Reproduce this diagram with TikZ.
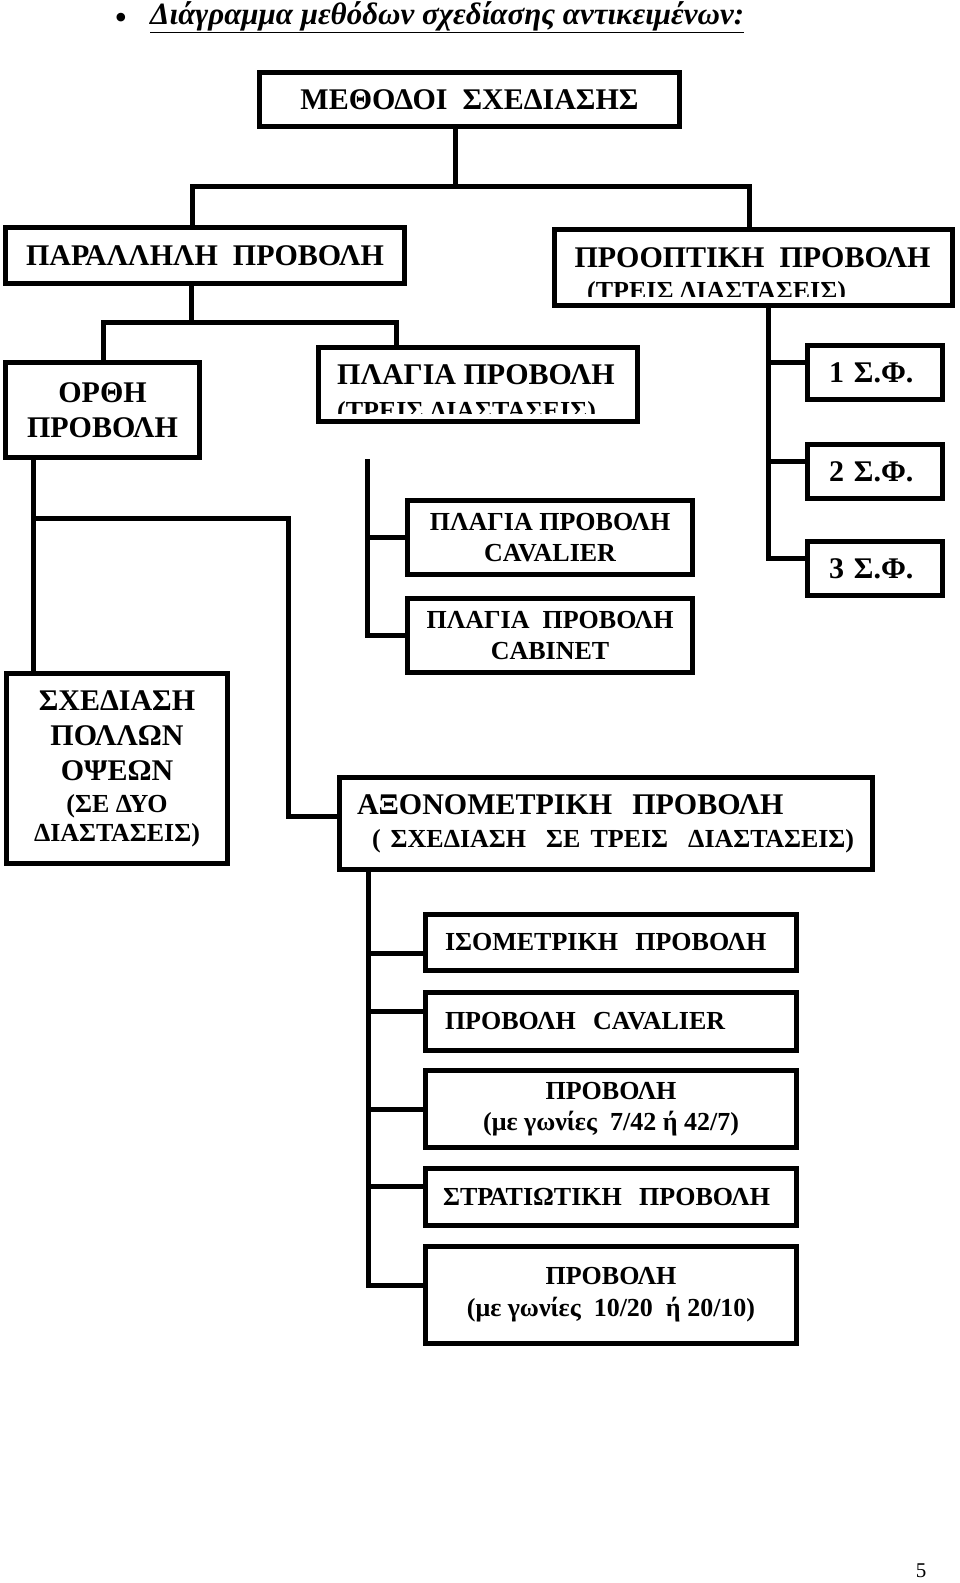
\documentclass[tikz,border=0pt]{standalone}
\usepackage{fontspec}
\setmainfont{Liberation Serif}
\newcommand{\bigtxt}{\fontsize{30}{35}\selectfont\bfseries}
\newcommand{\smalltxt}{\fontsize{26}{31}\selectfont\bfseries}
\begin{document}
\begin{tikzpicture}[x=1pt,y=-1pt,
    box/.style={draw,line width=5pt,inner sep=0pt,align=center,font=\bigtxt},
    txt/.style={inner sep=0pt,font=\bigtxt},
    link/.style={line width=5pt}]
  \useasboundingbox (0,0) rectangle (960,1583);

  % title
  \node[txt,anchor=base,font=\fontsize{36}{36}\selectfont] (dot) at (121,29) {•};
  \node[txt,anchor=base west,font=\fontsize{31}{34}\selectfont\bfseries\itshape] (title) at (150,24)
    {\underline{Διάγραμμα μεθόδων σχεδίασης αντικειμένων:}};

  % upper levels
  \node[box,minimum width=420pt,minimum height=54pt] (methods) at (469.5,99.5) {ΜΕΘΟΔΟΙ~~ΣΧΕΔΙΑΣΗΣ};
  \node[box,minimum width=399pt,minimum height=56pt] (parallel) at (205,255.5) {ΠΑΡΑΛΛΗΛΗ~~ΠΡΟΒΟΛΗ};
  \node[box,minimum width=398pt,minimum height=76pt] (persp) at (753.5,267.5) {};
  \node[txt,anchor=base] (persptop) at (752.5,267) {ΠΡΟΟΠΤΙΚΗ~~ΠΡΟΒΟΛΗ};
  \begin{scope}
    \clip (560,270) rectangle (948,296.5);
    \node[txt,anchor=base west,font=\smalltxt] (perspsub) at (587,299) {(ΤΡΕΙΣ ΔΙΑΣΤΑΣΕΙΣ)};
  \end{scope}

  \node[box,minimum width=194pt,minimum height=95pt] (ortho) at (102.5,410) {ΟΡΘΗ\\ΠΡΟΒΟΛΗ};
  \node[box,minimum width=319pt,minimum height=74pt] (oblique) at (478,384.5) {};
  \node[txt,anchor=base west] (obliquetop) at (337,384) {ΠΛΑΓΙΑ ΠΡΟΒΟΛΗ};
  \begin{scope}
    \clip (330,387) rectangle (630,413);
    \node[txt,anchor=base west,font=\smalltxt] (obliquesub) at (337,419) {(ΤΡΕΙΣ ΔΙΑΣΤΑΣΕΙΣ)};
  \end{scope}

  % vanishing points
  \foreach \k/\y in {1/372.5,2/471.5,3/568.5}
    \node[box,align=left,text width=92pt,inner xsep=21.5pt,minimum height=54pt] (sf\k) at (875,\y) {\k~Σ.Φ.};

  % oblique views
  \node[box,font=\smalltxt,minimum width=285pt,minimum height=74pt] (cav) at (550,537.5) {ΠΛΑΓΙΑ ΠΡΟΒΟΛΗ\\CAVALIER};
  \node[box,font=\smalltxt,minimum width=285pt,minimum height=74pt] (cab) at (550,635.5) {ΠΛΑΓΙΑ~~ΠΡΟΒΟΛΗ\\CABINET};

  \node[box,minimum width=221pt,minimum height=190pt] (multi) at (117,768.5)
    {ΣΧΕΔΙΑΣΗ\\ΠΟΛΛΩΝ\\ΟΨΕΩΝ\\[-3pt]{\smalltxt(ΣΕ ΔΥΟ}\\[-6pt]{\smalltxt ΔΙΑΣΤΑΣΕΙΣ)}};
  \node[box,align=left,text width=498pt,inner xsep=17.5pt,minimum height=92pt] (axon) at (606,823.5)
    {ΑΞΟΝΟΜΕΤΡΙΚΗ~~ΠΡΟΒΟΛΗ\\[-2pt]\hspace*{15pt}{\smalltxt( ΣΧΕΔΙΑΣΗ~~ΣΕ ΤΡΕΙΣ~~ΔΙΑΣΤΑΣΕΙΣ)}};

  % axonometric views
  \node[box,font=\smalltxt,align=left,text width=332pt,inner xsep=19.5pt,minimum height=56pt] (iso) at (611,942.5) {ΙΣΟΜΕΤΡΙΚΗ~~ΠΡΟΒΟΛΗ};
  \node[box,font=\smalltxt,align=left,text width=332pt,inner xsep=19.5pt,minimum height=58pt] (pcav) at (611,1021.5) {ΠΡΟΒΟΛΗ~~CAVALIER};
  \node[box,font=\smalltxt,minimum width=371pt,minimum height=77pt] (ang1) at (611,1109) {ΠΡΟΒΟΛΗ\\(με γωνίες~~7/42 ή 42/7)};
  \node[box,font=\smalltxt,align=left,text width=336pt,inner xsep=17.5pt,minimum height=57pt] (strat) at (611,1197) {ΣΤΡΑΤΙΩΤΙΚΗ~~ΠΡΟΒΟΛΗ};
  \node[box,font=\smalltxt,minimum width=371pt,minimum height=97pt] (ang2) at (611,1295) {ΠΡΟΒΟΛΗ\\[1pt](με γωνίες~~10/20~~ή 20/10)};

  \node[anchor=base,inner sep=0pt,font=\fontsize{21}{21}\selectfont] (page) at (921,1577) {5};

  % connectors
  \coordinate (b1) at (455,186);
  \coordinate (b1l) at (192,186);
  \coordinate (b1r) at (749,186);
  \draw[link] (methods.south -| b1) -- (b1);
  \draw[link] (parallel.north -| b1l) |- (b1r) -- (persp.north -| b1r);

  \coordinate (b2) at (191,322);
  \coordinate (b2l) at (103,322);
  \coordinate (b2r) at (396,322);
  \draw[link] (parallel.south -| b2) -- (b2);
  \draw[link] (ortho.north -| b2l) |- (b2r) -- (oblique.north -| b2r);

  \coordinate (b3) at (768,0);
  \foreach \n in {sf1,sf2,sf3}
    \draw[link] ([yshift=10.5pt]\n.west) -| (persp.south -| b3);

  \coordinate (b4) at (33,518);
  \coordinate (b4r) at (288,518);
  \draw[link] (ortho.south -| b4) -- (multi.north -| b4);
  \draw[link] (b4) -- (b4r) |- ([yshift=7.5pt]axon.west);

  \coordinate (b5) at (367,459);
  \foreach \n in {cav,cab}
    \draw[link] (\n.west) -| (b5);

  \coordinate (b6) at (368,0);
  \foreach \n/\s in {iso/-10.5,pcav/10.5,ang1/0,strat/11,ang2/10}
    \draw[link] ([yshift=\s pt]\n.west) -| (axon.south -| b6);
\end{tikzpicture}
\end{document}
